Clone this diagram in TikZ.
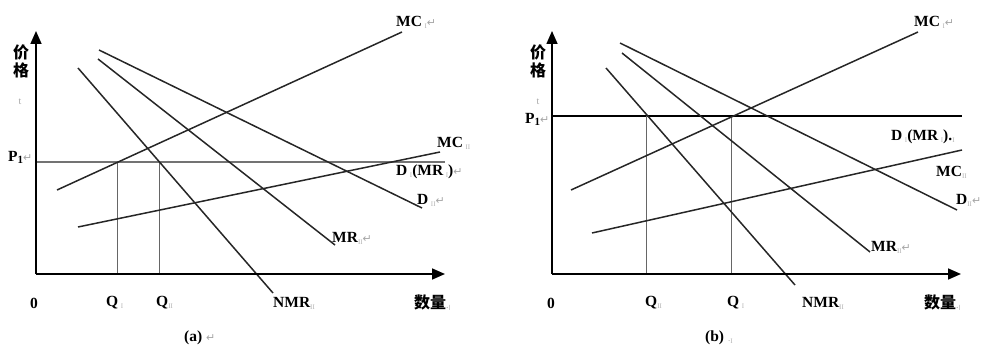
\documentclass[tikz,border=0pt]{standalone}
\usepackage{fontspec}
\setmainfont{Liberation Serif}
\newfontfamily\cjk{Noto Sans CJK SC}
\newfontfamily\dejavu{DejaVu Sans}
\usetikzlibrary{arrows.meta}
\newcommand{\retmark}{{\color{gray!70}\dejavu\mdseries\fontsize{11}{11}\selectfont ↵}}
\newcommand{\rn}[1]{\raisebox{-2pt}{\color{gray!60}\mdseries\fontsize{7}{7}\selectfont #1}}
\newcommand{\dotmark}{{\color{gray!70}\mdseries\fontsize{9}{9}\selectfont .\rn{I}}}
\begin{document}
\begin{tikzpicture}[x=1pt,y=-1pt,
  lbl/.style={inner sep=0pt,anchor=west,font=\bfseries\fontsize{15.5}{15.5}\selectfont},
  cn/.style={inner sep=0pt,font=\cjk\bfseries\fontsize{16}{16}\selectfont},
  axis/.style={line width=1.6pt,-{Triangle[length=13pt,width=11pt]}},
  curve/.style={line width=1.5pt,black!85},
  qline/.style={line width=0.9pt,black!60},
  pone/.style={line width=2.8pt,black!55},
  ponb/.style={line width=1.4pt,black}]
\useasboundingbox (0,0) rectangle (984,347);
% ===== panel (a) =====
\coordinate (aO) at (36,274);
\coordinate (aY) at (36,31);
\coordinate (aX) at (445,274);
\coordinate (aP1) at (36,162);
\coordinate (aP1e) at (445,162);
\coordinate (aMCIs) at (57,190);
\coordinate (aMCIe) at (402,32);
\coordinate (aMCIIs) at (78,227);
\coordinate (aMCIIe) at (440,152);
\coordinate (aDIIs) at (99,50);
\coordinate (aDIIe) at (422,208);
\coordinate (aMRs) at (98,59);
\coordinate (aMRe) at (335,245);
\coordinate (aNMRs) at (78,68);
\coordinate (aNMRe) at (273,293);
\coordinate (aQIt) at (117,162);
\coordinate (aQIb) at (117,273);
\coordinate (aQIIt) at (159,162);
\coordinate (aQIIb) at (159,273);
\draw[pone] (aP1) -- (aP1e);
\draw[qline] (aQIt) -- (aQIb);
\draw[qline] (aQIIt) -- (aQIIb);
\draw[curve] (aMCIs) -- (aMCIe);
\draw[curve] (aMCIIs) -- (aMCIIe);
\draw[curve] (aDIIs) -- (aDIIe);
\draw[curve] (aMRs) -- (aMRe);
\draw[curve] (aNMRs) -- (aNMRe);
\draw[axis] (aO) -- (aY);
\draw[axis] (aO) -- (aX);
\node[cn] (aJia) at (21,52) {价};
\node[cn] (aGe) at (21,70) {格};
\node[inner sep=0pt,font=\fontsize{10}{10}\selectfont,text=gray!70] (at) at (20,102) {t};
\node[lbl] (aP1l) at (8,157) {P\raisebox{-2pt}{\fontsize{11}{11}\selectfont 1}\retmark};
\node[lbl] (aMCIl) at (396,22) {MC\,\rn{I}\retmark};
\node[lbl] (aMCIIl) at (437,143) {MC\,\rn{II}};
\node[lbl] (aDIl) at (396,172) {D\,\rn{I}(MR\,\rn{I})\retmark};
\node[lbl] (aDIIl) at (417,200) {D\,\rn{II}\retmark};
\node[lbl] (aMRl) at (332,238) {MR\rn{II}\retmark};
\node[lbl] (aNMRl) at (273,303) {NMR\rn{II}};
\node[lbl,anchor=center] (a0) at (34,303) {0};
\node[lbl] (aQIl) at (106,303) {Q\,\rn{I}};
\node[lbl] (aQIIl) at (156,303) {Q\rn{II}};
\node[cn,anchor=west] (aShu) at (414,303) {数量\dotmark};
\node[lbl] (acap) at (184,338) {(a)\ \retmark};
% ===== panel (b) =====
\coordinate (bO) at (552,274);
\coordinate (bY) at (552,31);
\coordinate (bX) at (961,274);
\coordinate (bP1) at (552,116);
\coordinate (bP1e) at (962,116);
\coordinate (bMCIs) at (571,190);
\coordinate (bMCIe) at (918,32);
\coordinate (bMCIIs) at (592,233);
\coordinate (bMCIIe) at (962,150);
\coordinate (bDIIs) at (620,43);
\coordinate (bDIIe) at (957,210);
\coordinate (bMRs) at (622,53);
\coordinate (bMRe) at (870,252);
\coordinate (bNMRs) at (606,68);
\coordinate (bNMRe) at (795,285);
\coordinate (bQIIt) at (646,116);
\coordinate (bQIIb) at (646,273);
\coordinate (bQIt) at (731,116);
\coordinate (bQIb) at (731,273);
\draw[ponb] (bP1) -- (bP1e);
\draw[qline] (bQIIt) -- (bQIIb);
\draw[qline] (bQIt) -- (bQIb);
\draw[curve] (bMCIs) -- (bMCIe);
\draw[curve] (bMCIIs) -- (bMCIIe);
\draw[curve] (bDIIs) -- (bDIIe);
\draw[curve] (bMRs) -- (bMRe);
\draw[curve] (bNMRs) -- (bNMRe);
\draw[axis] (bO) -- (bY);
\draw[axis] (bO) -- (bX);
\node[cn] (bJia) at (538,52) {价};
\node[cn] (bGe) at (538,70) {格};
\node[inner sep=0pt,font=\fontsize{10}{10}\selectfont,text=gray!70] (bt) at (538,102) {t};
\node[lbl] (bP1l) at (525,119) {P\raisebox{-2pt}{\fontsize{11}{11}\selectfont 1}\retmark};
\node[lbl] (bMCIl) at (914,22) {MC\,\rn{I}\retmark};
\node[lbl] (bDIl) at (891,137) {D\,\rn{I}(MR\,\rn{I}).\rn{I}};
\node[lbl] (bMCIIl) at (936,172) {MC\rn{II}};
\node[lbl] (bDIIl) at (956,200) {D\rn{II}\retmark};
\node[lbl] (bMRl) at (871,247) {MR\rn{II}\retmark};
\node[lbl] (bNMRl) at (802,303) {NMR\rn{II}};
\node[lbl,anchor=center] (b0) at (551,303) {0};
\node[lbl] (bQIIl) at (645,303) {Q\rn{II}};
\node[lbl] (bQIl) at (727,303) {Q\,\rn{I}};
\node[cn,anchor=west] (bShu) at (924,303) {数量\dotmark};
\node[lbl] (bcap) at (705,338) {(b)\ \dotmark};
\end{tikzpicture}
\end{document}
